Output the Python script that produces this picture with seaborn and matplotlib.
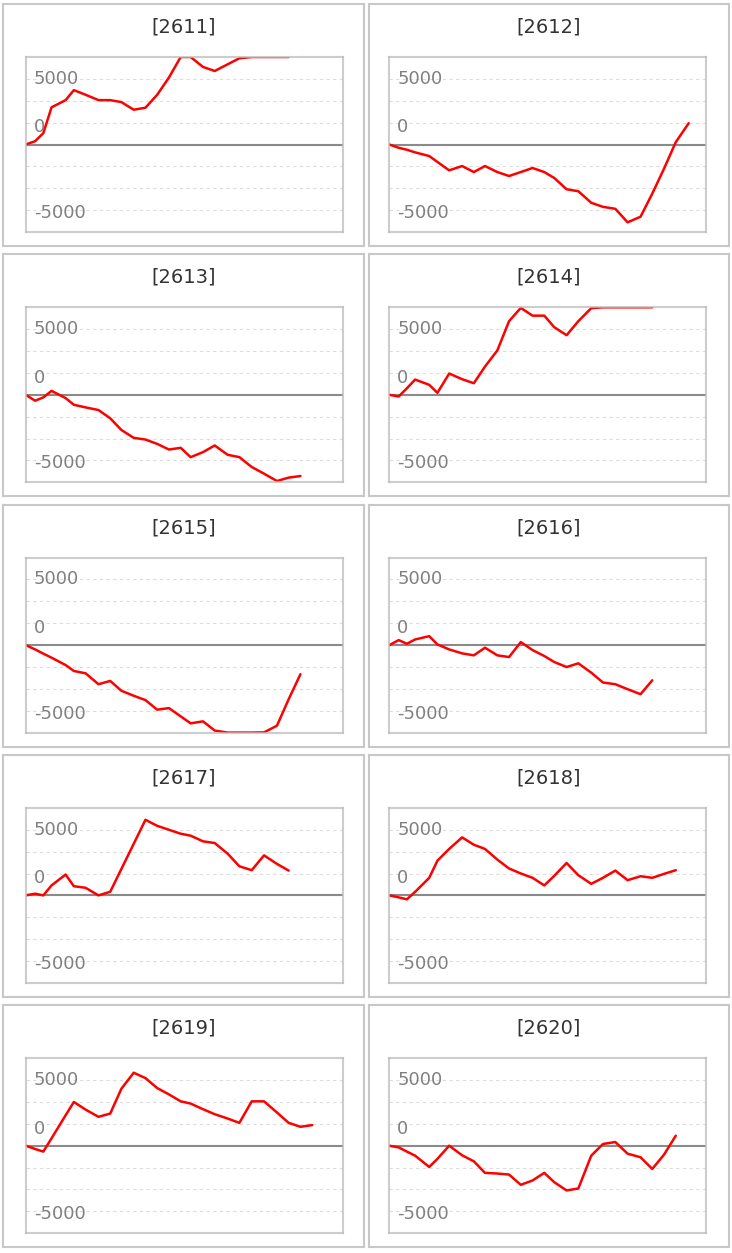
import numpy as np
import pandas as pd
import matplotlib
matplotlib.use('Agg')
import matplotlib.pyplot as plt
import matplotlib.transforms as mtransforms
import seaborn as sns

# Ühised x-positsioonid (päevad), kõik seeriad kasutavad nende algust
paevad = [0, 0.8, 1.5, 2.2, 3.4, 4.1, 5.1, 6.2, 7.2, 8.15, 9.2, 10.2, 11.2, 12.2,
          13.2, 14.05, 15.1, 16.1, 17.2, 18.2, 19.25, 20.3, 21.4, 22.4, 23.4, 24.4, 25.5]

koodid = ['2611', '2612', '2613', '2614', '2615', '2616', '2617', '2618', '2619', '2620']

s2611 = [0, 250, 860, 2830, 3380, 4140, 3790, 3380, 3380, 3230, 2650, 2800, 3790, 5100,
         6700, 6700, 5910, 5600, 6110, 6570, 7000, 7200, 7100, 7000]
s2612 = [0, -250, -400, -600, -880, -1330, -1970, -1640, -2100, -1640, -2100, -2400, -2100,
         -1790, -2100, -2550, -3410, -3560, -4440, -4750, -4900, -5930, -5500, -3740, -1840,
         180, 1620]
s2613 = [0, -450, -200, 300, -250, -760, -960, -1160, -1790, -2680, -3280, -3410, -3740,
         -4170, -4040, -4750, -4370, -3860, -4570, -4750, -5500, -6010, -6570, -6310, -6190]
s2614 = [0, -130, 500, 1160, 760, 150, 1620, 1190, 880, 2150, 3380, 5610, 6620, 6030, 6030,
         5150, 4540, 5610, 6600, 7000, 7100, 7200, 7100, 7000]
s2615 = [0, -330, -650, -960, -1520, -1970, -2150, -2980, -2730, -3480, -3860, -4190, -4920,
         -4800, -5430, -5960, -5810, -6510, -6900, -7100, -7000, -6650, -6140, -4120, -2220]
s2616 = [0, 380, 100, 430, 680, 50, -330, -630, -780, -200, -780, -910, 230, -380, -830,
         -1290, -1670, -1390, -2100, -2850, -2980, -3360, -3740, -2680]
s2617 = [0, 130, 0, 760, 1590, 700, 580, 0, 280, 2015, 3930, 5760, 5300, 5000, 4700, 4550,
         4120, 3990, 3180, 2220, 1920, 3050, 2400, 1890]
s2618 = [0, -150, -300, 270, 1340, 2650, 3540, 4420, 3860, 3540, 2730, 2050, 1670, 1340,
         760, 1490, 2470, 1540, 880, 1340, 1890, 1160, 1460, 1340, 1640, 1920]
s2619 = [0, -250, -450, 560, 2320, 3330, 2750, 2200, 2450, 4340, 5560, 5150, 4390, 3910,
         3380, 3210, 2780, 2400, 2070, 1740, 3380, 3380, 2530, 1740, 1440, 1570]
s2620 = [0, -130, -450, -760, -1620, -1000, 0, -730, -1190, -2070, -2120, -2200, -2980,
         -2650, -2070, -2780, -3410, -3260, -760, 130, 280, -610, -880, -1770, -680, 760]

seeriad = [s2611, s2612, s2613, s2614, s2615, s2616, s2617, s2618, s2619, s2620]

telje_vaartused = [5000, 0, -5000]
telje_tekstid = ['5000', '0', '-5000']

SAMM = 5000 / 3  # ruudustiku samm
Y_MAX = 4 * SAMM
X_MAX = 27

W, H = 732, 1253


def px_box(left, top, width, height):
    return [left / W, 1 - (top + height) / H, width / W, height / H]


def makeLongTable():
    read = []
    for kood, vals in zip(koodid, seeriad):
        for x, y in zip(paevad, vals):
            read.append({'kood': kood, 'x': x, 'y': y})
    df = pd.DataFrame(read)
    # väljaspool vaateakent olevad väärtused surutakse servale (nagu originaalis)
    df['y_vaade'] = df['y'].clip(-Y_MAX, Y_MAX)
    return df


def drawPanel(fig, df, kood, rida, veerg):
    rea_nihe = rida * 250.3
    kasti_vasak = [3, 369][veerg]
    kasti_laius = [361, 360][veerg]
    ax_kast = fig.add_axes(px_box(kasti_vasak, 4 + rea_nihe, kasti_laius, 242))
    ax_kast.set_xticks([])
    ax_kast.set_yticks([])
    for sp in ax_kast.spines.values():
        sp.set_color('#c8c8c8')
        sp.set_linewidth(1.5)
    ax_kast.text(0.5, 1 - 23 / 242, '[' + kood + ']', transform=ax_kast.transAxes,
                 ha='center', va='center', fontsize=14, color='#333333')

    vasak = [25.7, 389.3][veerg]
    ax = fig.add_axes(px_box(vasak, 57 + rea_nihe, 317, 175))
    ax.set_facecolor('none')
    sns.lineplot(data=df[df['kood'] == kood], x='x', y='y_vaade', ax=ax, color='#ff0000',
                 linewidth=1.8, estimator=None, sort=False, zorder=2)
    ax.set_xlim(0, X_MAX)
    ax.set_ylim(-Y_MAX, Y_MAX)
    ax.set_xticks([])
    ax.set_yticks([k * SAMM for k in [-3, -2, -1, 1, 2, 3]])
    ax.set_yticklabels([])
    ax.tick_params(length=0)
    ax.grid(axis='y', color='#dcdcdc', linewidth=0.8, linestyle=(0, (3, 3)))
    ax.set_axisbelow(True)
    ax.axhline(0, color='#8a8a8a', linewidth=1.5, zorder=1.5)
    ax.set_xlabel('')
    ax.set_ylabel('')
    for sp in ax.spines.values():
        sp.set_visible(True)
        sp.set_color('#bdbdbd')
        sp.set_linewidth(1.5)
        sp.set_alpha(0.75)
        sp.set_zorder(3)

    # telje tekstid graafiku sees vasakul
    nihked = [0, 17, -3]
    segatud = mtransforms.blended_transform_factory(ax.transAxes, ax.transData)
    for v, t, dy in zip(telje_vaartused, telje_tekstid, nihked):
        tr = mtransforms.offset_copy(segatud, fig=fig, x=8, y=dy, units='dots')
        ax.text(0, v, t, transform=tr, ha='left', va='center', fontsize=13,
                color='#808080', zorder=4)
    return None


def main():
    sns.set_theme(style='white')
    plt.rcParams['font.family'] = ['DejaVu Sans']
    df = makeLongTable()
    fig = plt.figure(figsize=(W / 100, H / 100), dpi=100)
    fig.patch.set_facecolor('white')
    for i, kood in enumerate(koodid):
        drawPanel(fig, df, kood, i // 2, i % 2)
    fig.savefig('out.png', dpi=100)


if __name__ == '__main__':
    main()
